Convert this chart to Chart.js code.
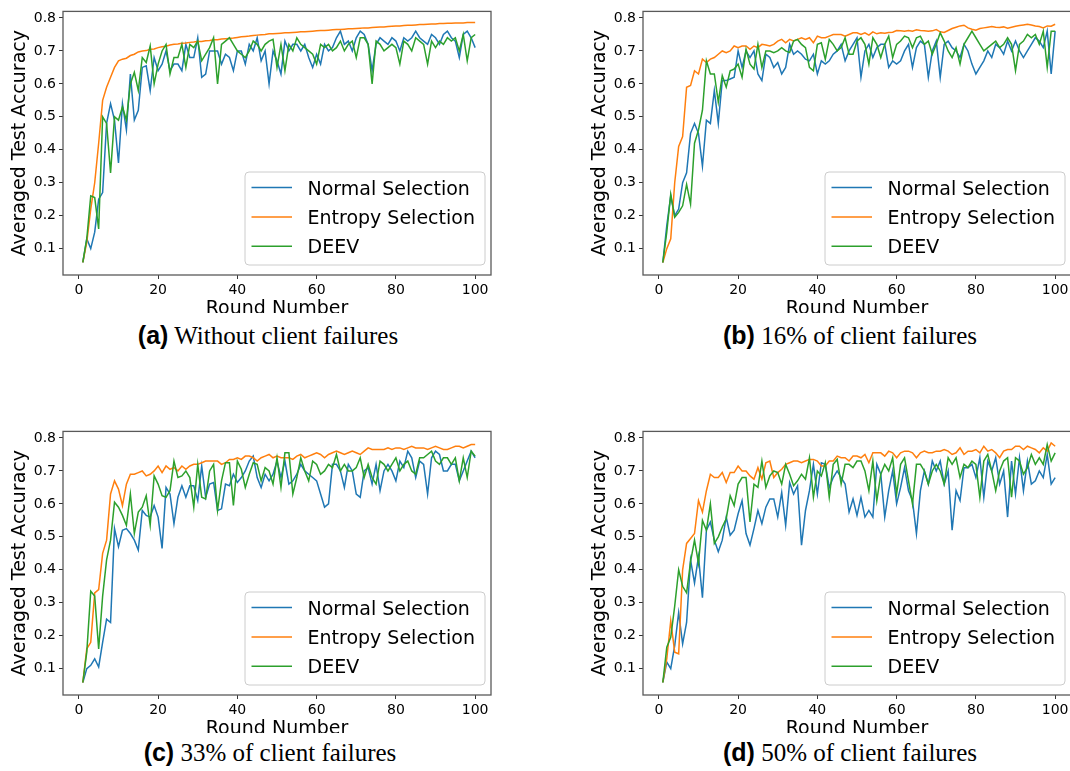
<!DOCTYPE html>
<html>
<head>
<meta charset="utf-8">
<script src="https://cdn.jsdelivr.net/npm/chart.js@4.4.1/dist/chart.umd.min.js"></script>
<style>
  html, body { margin: 0; padding: 0; background: #fff; }
  body { width: 1070px; height: 771px; overflow: hidden; position: relative; }
  .panel { position: absolute; width: 500px; height: 313px; overflow: hidden; }
  .panel canvas { position: absolute; left: 0; top: 0; }
  .cap { position: absolute; width: 500px; text-align: center; font-size: 25px; line-height: 25px; white-space: nowrap; color: #000; }
  .cap b { font-family: "Liberation Sans", Arial, sans-serif; font-weight: bold; }
  .cap span { font-family: "Liberation Serif", "Times New Roman", serif; }
</style>
</head>
<body>
<div class="panel" style="left:0px;top:0px"><canvas id="cA" width="500" height="320"></canvas></div>
<div class="panel" style="left:580px;top:0px"><canvas id="cB" width="500" height="320"></canvas></div>
<div class="panel" style="left:0px;top:420px"><canvas id="cC" width="500" height="320"></canvas></div>
<div class="panel" style="left:580px;top:420px"><canvas id="cD" width="500" height="320"></canvas></div>
<div class="cap" style="left:18px;top:323px"><b>(a)</b><span> Without client failures</span></div>
<div class="cap" style="left:600px;top:323px"><b>(b)</b><span> 16% of client failures</span></div>
<div class="cap" style="left:20px;top:740px"><b>(c)</b><span> 33% of client failures</span></div>
<div class="cap" style="left:600px;top:740px"><b>(d)</b><span> 50% of client failures</span></div>
<script>
// ---- categories / ticks ----
const rounds = [1,2,3,4,5,6,7,8,9,10,11,12,13,14,15,16,17,18,19,20,
  21,22,23,24,25,26,27,28,29,30,31,32,33,34,35,36,37,38,39,40,
  41,42,43,44,45,46,47,48,49,50,51,52,53,54,55,56,57,58,59,60,
  61,62,63,64,65,66,67,68,69,70,71,72,73,74,75,76,77,78,79,80,
  81,82,83,84,85,86,87,88,89,90,91,92,93,94,95,96,97,98,99,100];
const xTicks = [0, 20, 40, 60, 80, 100];
const yTicks = [0.1, 0.2, 0.3, 0.4, 0.5, 0.6, 0.7, 0.8];
const seriesNames = ["Normal Selection", "Entropy Selection", "DEEV"];
const xTitle = "Round Number";
const yTitle = "Averaged Test Accuracy";

// ---- (a) Without client failures ----
const aNormal = [
  0.058,0.13,0.10,0.15,0.25,0.27,0.48,0.54,0.49,0.36,
  0.54,0.46,0.63,0.49,0.52,0.65,0.655,0.58,0.68,0.64,
  0.66,0.70,0.64,0.66,0.66,0.64,0.72,0.68,0.68,0.74,
  0.62,0.63,0.70,0.70,0.70,0.66,0.69,0.68,0.64,0.70,
  0.70,0.66,0.72,0.70,0.74,0.67,0.70,0.60,0.70,0.67,
  0.63,0.73,0.70,0.72,0.72,0.70,0.72,0.68,0.65,0.69,
  0.66,0.72,0.70,0.71,0.74,0.76,0.72,0.73,0.70,0.74,
  0.76,0.75,0.72,0.64,0.72,0.74,0.73,0.72,0.74,0.73,
  0.70,0.74,0.73,0.74,0.76,0.74,0.73,0.72,0.75,0.74,
  0.72,0.75,0.76,0.74,0.73,0.68,0.75,0.76,0.74,0.71];
const aEntropy = [
  0.058,0.12,0.22,0.30,0.42,0.55,0.59,0.62,0.65,0.67,
  0.675,0.678,0.686,0.69,0.697,0.70,0.701,0.705,0.706,0.71,
  0.713,0.714,0.718,0.72,0.721,0.723,0.724,0.726,0.727,0.729,
  0.729,0.731,0.732,0.734,0.734,0.736,0.737,0.738,0.739,0.741,
  0.743,0.744,0.745,0.747,0.748,0.749,0.750,0.752,0.752,0.753,
  0.754,0.755,0.755,0.756,0.757,0.758,0.758,0.759,0.760,0.761,
  0.762,0.762,0.763,0.764,0.765,0.765,0.766,0.767,0.767,0.768,
  0.769,0.770,0.770,0.771,0.772,0.773,0.773,0.774,0.775,0.776,
  0.776,0.777,0.778,0.778,0.779,0.780,0.780,0.781,0.782,0.782,
  0.783,0.783,0.784,0.784,0.785,0.785,0.785,0.786,0.786,0.786];
const aDeev = [
  0.058,0.13,0.26,0.255,0.16,0.50,0.48,0.33,0.50,0.49,
  0.53,0.49,0.60,0.635,0.58,0.68,0.665,0.715,0.60,0.66,
  0.70,0.72,0.63,0.68,0.68,0.72,0.65,0.72,0.71,0.73,
  0.67,0.69,0.71,0.74,0.60,0.72,0.73,0.74,0.72,0.70,
  0.69,0.68,0.70,0.73,0.72,0.70,0.72,0.73,0.735,0.65,
  0.72,0.64,0.72,0.70,0.74,0.72,0.71,0.70,0.69,0.66,
  0.72,0.71,0.72,0.70,0.71,0.73,0.70,0.72,0.73,0.68,
  0.74,0.74,0.72,0.60,0.73,0.72,0.70,0.71,0.72,0.71,
  0.66,0.73,0.72,0.70,0.74,0.73,0.72,0.66,0.73,0.71,
  0.73,0.72,0.74,0.73,0.74,0.70,0.75,0.67,0.74,0.75];

// ---- (b) 16% of client failures ----
const bNormal = [
  0.058,0.17,0.26,0.20,0.22,0.30,0.33,0.45,0.48,0.45,
  0.35,0.49,0.48,0.58,0.48,0.61,0.61,0.615,0.62,0.70,
  0.65,0.70,0.68,0.70,0.63,0.61,0.69,0.68,0.65,0.665,
  0.63,0.65,0.72,0.69,0.70,0.69,0.675,0.67,0.69,0.63,
  0.67,0.66,0.67,0.69,0.70,0.72,0.67,0.70,0.72,0.74,
  0.62,0.70,0.72,0.68,0.71,0.72,0.72,0.65,0.67,0.66,
  0.67,0.70,0.72,0.65,0.71,0.73,0.72,0.62,0.70,0.73,
  0.62,0.72,0.73,0.71,0.70,0.68,0.72,0.70,0.66,0.63,
  0.65,0.67,0.70,0.68,0.72,0.71,0.69,0.73,0.70,0.73,
  0.70,0.68,0.70,0.72,0.74,0.73,0.71,0.76,0.63,0.76];
const bEntropy = [
  0.058,0.10,0.13,0.30,0.41,0.44,0.59,0.595,0.64,0.63,
  0.675,0.665,0.675,0.68,0.69,0.70,0.695,0.70,0.715,0.71,
  0.715,0.715,0.705,0.715,0.71,0.72,0.718,0.715,0.72,0.73,
  0.735,0.725,0.735,0.73,0.735,0.74,0.735,0.74,0.725,0.745,
  0.74,0.74,0.745,0.75,0.75,0.75,0.745,0.75,0.755,0.755,
  0.75,0.755,0.748,0.758,0.752,0.755,0.754,0.756,0.757,0.762,
  0.761,0.760,0.762,0.760,0.764,0.762,0.761,0.760,0.761,0.765,
  0.758,0.756,0.762,0.768,0.772,0.776,0.778,0.770,0.766,0.763,
  0.768,0.770,0.772,0.774,0.772,0.771,0.773,0.769,0.772,0.775,
  0.777,0.779,0.781,0.779,0.776,0.774,0.770,0.776,0.775,0.781];
const bDeev = [
  0.058,0.15,0.265,0.195,0.21,0.23,0.295,0.235,0.42,0.46,
  0.52,0.67,0.63,0.63,0.545,0.625,0.59,0.64,0.645,0.66,
  0.62,0.705,0.66,0.645,0.72,0.65,0.70,0.70,0.695,0.70,
  0.71,0.70,0.695,0.73,0.735,0.72,0.71,0.65,0.64,0.72,
  0.725,0.675,0.735,0.72,0.70,0.71,0.74,0.69,0.69,0.73,
  0.74,0.72,0.66,0.74,0.72,0.68,0.72,0.745,0.68,0.72,
  0.73,0.745,0.74,0.71,0.74,0.745,0.72,0.73,0.69,0.72,
  0.755,0.73,0.70,0.68,0.71,0.66,0.72,0.74,0.76,0.74,
  0.72,0.70,0.71,0.72,0.73,0.71,0.72,0.74,0.72,0.64,
  0.72,0.73,0.75,0.74,0.75,0.72,0.76,0.65,0.76,0.76];

// ---- (c) 33% of client failures ----
const cNormal = [
  0.058,0.10,0.11,0.13,0.105,0.18,0.25,0.24,0.525,0.47,
  0.52,0.525,0.51,0.49,0.46,0.58,0.565,0.56,0.595,0.56,
  0.465,0.65,0.63,0.54,0.62,0.655,0.62,0.655,0.655,0.61,
  0.715,0.62,0.66,0.665,0.58,0.585,0.66,0.655,0.69,0.665,
  0.68,0.70,0.73,0.745,0.68,0.65,0.69,0.67,0.69,0.73,
  0.68,0.73,0.66,0.67,0.69,0.72,0.70,0.69,0.68,0.67,
  0.63,0.59,0.60,0.72,0.72,0.70,0.65,0.72,0.70,0.63,
  0.62,0.70,0.71,0.66,0.72,0.64,0.70,0.72,0.70,0.67,
  0.73,0.71,0.76,0.74,0.68,0.73,0.72,0.63,0.74,0.76,
  0.75,0.70,0.70,0.72,0.72,0.67,0.70,0.73,0.76,0.74];
const cEntropy = [
  0.058,0.16,0.18,0.33,0.34,0.45,0.49,0.63,0.67,0.645,
  0.595,0.66,0.69,0.69,0.695,0.70,0.685,0.69,0.70,0.715,
  0.695,0.715,0.705,0.71,0.70,0.715,0.705,0.715,0.72,0.72,
  0.725,0.73,0.73,0.73,0.73,0.72,0.725,0.735,0.735,0.74,
  0.735,0.745,0.745,0.74,0.73,0.74,0.745,0.75,0.74,0.745,
  0.74,0.74,0.74,0.735,0.745,0.75,0.74,0.745,0.75,0.755,
  0.75,0.74,0.75,0.755,0.76,0.755,0.75,0.755,0.76,0.755,
  0.75,0.76,0.77,0.765,0.765,0.765,0.765,0.77,0.765,0.77,
  0.77,0.765,0.77,0.775,0.77,0.77,0.77,0.765,0.77,0.775,
  0.77,0.765,0.765,0.77,0.775,0.775,0.77,0.775,0.78,0.78];
const cDeev = [
  0.058,0.15,0.335,0.32,0.16,0.32,0.43,0.49,0.605,0.59,
  0.565,0.535,0.63,0.51,0.575,0.59,0.625,0.535,0.685,0.66,
  0.625,0.62,0.64,0.73,0.68,0.685,0.70,0.68,0.59,0.72,
  0.62,0.615,0.70,0.72,0.58,0.67,0.725,0.725,0.595,0.73,
  0.705,0.65,0.69,0.725,0.72,0.67,0.71,0.70,0.66,0.74,
  0.65,0.755,0.755,0.63,0.68,0.74,0.70,0.67,0.73,0.72,
  0.69,0.70,0.72,0.71,0.75,0.70,0.72,0.70,0.70,0.71,
  0.74,0.68,0.72,0.68,0.66,0.73,0.72,0.70,0.72,0.74,
  0.70,0.72,0.73,0.70,0.69,0.74,0.74,0.75,0.76,0.73,
  0.72,0.74,0.74,0.72,0.74,0.67,0.74,0.68,0.76,0.745];

// ---- (d) 50% of client failures ----
const dNormal = [
  0.058,0.12,0.10,0.17,0.27,0.175,0.24,0.43,0.36,0.44,
  0.315,0.52,0.545,0.49,0.455,0.49,0.56,0.505,0.52,0.57,
  0.61,0.51,0.475,0.525,0.58,0.54,0.59,0.615,0.615,0.56,
  0.635,0.535,0.665,0.63,0.655,0.475,0.58,0.64,0.72,0.63,
  0.725,0.72,0.65,0.68,0.70,0.68,0.66,0.575,0.615,0.565,
  0.62,0.56,0.58,0.56,0.72,0.69,0.56,0.64,0.70,0.60,
  0.65,0.71,0.64,0.61,0.51,0.64,0.70,0.66,0.73,0.70,
  0.73,0.66,0.70,0.52,0.64,0.61,0.71,0.71,0.72,0.68,
  0.74,0.62,0.73,0.70,0.74,0.66,0.70,0.56,0.73,0.63,
  0.74,0.64,0.73,0.66,0.67,0.70,0.68,0.75,0.66,0.68];
const dEntropy = [
  0.058,0.13,0.245,0.15,0.145,0.40,0.48,0.495,0.51,0.61,
  0.575,0.64,0.69,0.68,0.68,0.695,0.665,0.695,0.695,0.715,
  0.70,0.70,0.685,0.675,0.71,0.675,0.725,0.73,0.68,0.695,
  0.705,0.72,0.725,0.73,0.73,0.725,0.73,0.735,0.735,0.73,
  0.715,0.715,0.73,0.73,0.745,0.74,0.74,0.73,0.745,0.745,
  0.74,0.75,0.725,0.755,0.755,0.755,0.745,0.76,0.755,0.74,
  0.755,0.76,0.76,0.755,0.74,0.755,0.76,0.755,0.755,0.76,
  0.76,0.765,0.76,0.75,0.755,0.77,0.75,0.76,0.76,0.765,
  0.755,0.775,0.76,0.765,0.755,0.74,0.76,0.765,0.765,0.775,
  0.775,0.765,0.775,0.77,0.765,0.755,0.77,0.76,0.785,0.775];
const dDeev = [
  0.058,0.165,0.195,0.29,0.40,0.35,0.33,0.425,0.49,0.42,
  0.55,0.52,0.60,0.48,0.50,0.53,0.555,0.625,0.595,0.66,
  0.68,0.68,0.545,0.66,0.65,0.73,0.65,0.685,0.70,0.695,
  0.66,0.72,0.69,0.655,0.67,0.69,0.675,0.74,0.62,0.70,
  0.685,0.725,0.62,0.72,0.735,0.66,0.72,0.72,0.71,0.73,
  0.73,0.70,0.64,0.73,0.61,0.69,0.72,0.70,0.74,0.63,
  0.72,0.74,0.67,0.60,0.72,0.72,0.70,0.66,0.70,0.72,
  0.70,0.66,0.74,0.72,0.74,0.68,0.72,0.71,0.73,0.72,
  0.62,0.73,0.75,0.70,0.64,0.70,0.73,0.74,0.62,0.74,
  0.73,0.69,0.71,0.75,0.72,0.74,0.72,0.78,0.73,0.755];

// ---- styling ----
const COLORS = ['#1f77b4', '#ff7f0e', '#2ca02c'];
const FONT = '"DejaVu Sans", "Liberation Sans", sans-serif';

const decorPlugin = {
  id: 'decor',
  afterDatasetsDraw(chart) {
    const ctx = chart.ctx, a = chart.chartArea;
    ctx.save();
    // frame (all four spines)
    ctx.strokeStyle = '#595959';
    ctx.lineWidth = 1.3;
    ctx.strokeRect(a.left, a.top, a.right - a.left, a.bottom - a.top);
    // legend (lower right)
    const bw = 240, bh = 93, bx = a.right - 6 - bw, by = a.bottom - 10 - bh;
    ctx.beginPath();
    ctx.roundRect(bx, by, bw, bh, 4);
    ctx.fillStyle = 'rgba(255,255,255,0.8)';
    ctx.fill();
    ctx.strokeStyle = '#cccccc';
    ctx.lineWidth = 1;
    ctx.stroke();
    ctx.font = '19px ' + FONT;
    ctx.textAlign = 'left';
    ctx.textBaseline = 'alphabetic';
    chart.data.datasets.forEach((ds, i) => {
      const ly = by + 15.6 + i * 29.3;
      ctx.strokeStyle = ds.borderColor;
      ctx.lineWidth = 1.5;
      ctx.beginPath();
      ctx.moveTo(bx + 6.5, ly);
      ctx.lineTo(bx + 47, ly);
      ctx.stroke();
      ctx.fillStyle = '#000';
      ctx.fillText(ds.label, bx + 62.5, ly + 7);
    });
    // axis titles
    ctx.fillStyle = '#000';
    ctx.textAlign = 'center';
    ctx.fillText(xTitle, (a.left + a.right) / 2, a.bottom + 39);
    ctx.translate(a.left - 38, (a.top + a.bottom) / 2);
    ctx.rotate(-Math.PI / 2);
    ctx.fillText(yTitle, 0, 0);
    ctx.restore();
  }
};

function makeChart(id, normal, entropy, deev) {
  const series = [normal, entropy, deev];
  const datasets = series.map((vals, i) => ({
    label: seriesNames[i],
    data: rounds.map((r, k) => ({ x: r, y: vals[k] })),
    borderColor: COLORS[i],
    backgroundColor: COLORS[i],
    borderWidth: 1.5,
    pointRadius: 0,
    tension: 0,
    fill: false,
    order: 3 - i
  }));
  const tickFont = { family: FONT, size: 14 };
  return new Chart(document.getElementById(id), {
    type: 'line',
    data: { datasets },
    plugins: [decorPlugin],
    options: {
      responsive: false,
      animation: false,
      devicePixelRatio: 1,
      layout: { padding: { top: 6, right: 9, left: 0, bottom: 0 } },
      plugins: { legend: { display: false }, tooltip: { enabled: false } },
      scales: {
        x: {
          type: 'linear', min: -4, max: 104,
          afterBuildTicks: s => { s.ticks = xTicks.map(v => ({ value: v })); },
          afterFit: s => { s.height = 45; },
          ticks: { font: tickFont, color: '#000', padding: 3, maxRotation: 0, autoSkip: false },
          grid: { drawOnChartArea: false, drawTicks: true, tickLength: 4, color: '#333', lineWidth: 1 },
          border: { display: false }
        },
        y: {
          type: 'linear', min: 0.02, max: 0.82,
          afterBuildTicks: s => { s.ticks = yTicks.map(v => ({ value: v })); },
          afterFit: s => { s.width = 63; },
          ticks: { font: tickFont, color: '#000', padding: 3, autoSkip: false,
                   callback: v => Number(v).toFixed(1) },
          grid: { drawOnChartArea: false, drawTicks: true, tickLength: 4, color: '#333', lineWidth: 1 },
          border: { display: false }
        }
      }
    }
  });
}

makeChart('cA', aNormal, aEntropy, aDeev);
makeChart('cB', bNormal, bEntropy, bDeev);
makeChart('cC', cNormal, cEntropy, cDeev);
makeChart('cD', dNormal, dEntropy, dDeev);
</script>
</body>
</html>
